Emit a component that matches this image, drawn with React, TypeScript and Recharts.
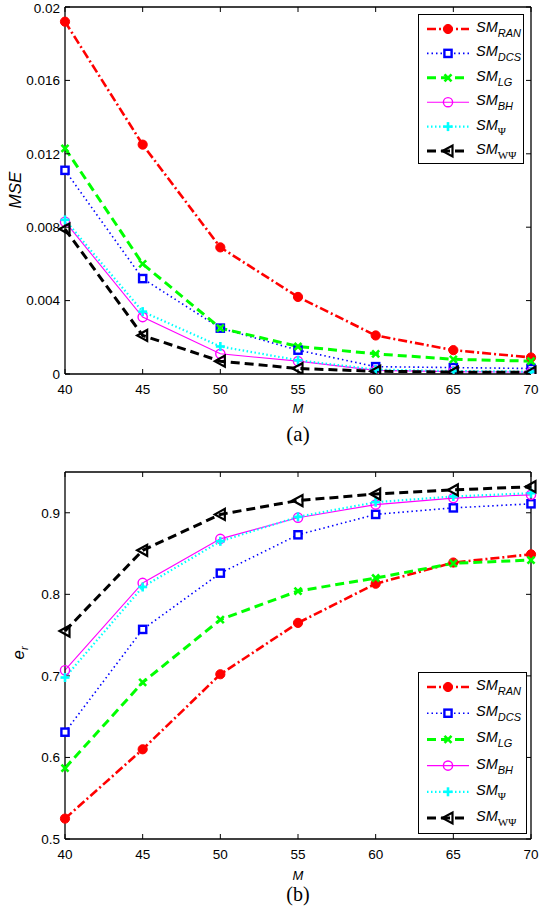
import React from "react"
import { LineChart, Line, XAxis, YAxis } from "recharts"

// M values on the x axis
const mValues = [40, 45, 50, 55, 60, 65, 70]

// (a) MSE
const mseRan = [0.0192, 0.0125, 0.0069, 0.0042, 0.0021, 0.0013, 0.0009]
const mseDcs = [0.0111, 0.0052, 0.0025, 0.0013, 0.0004, 0.00035, 0.0003]
const mseLg = [0.0123, 0.006, 0.0025, 0.0015, 0.0011, 0.0008, 0.0007]
const mseBh = [0.0083, 0.0031, 0.0011, 0.0007, 0.0002, 0.00013, 0.0001]
const msePsi = [0.0084, 0.0034, 0.0015, 0.00075, 0.00024, 0.00016, 0.00013]
const mseWpsi = [0.0079, 0.0021, 0.0007, 0.0003, 0.00015, 0.0001, 0.00009]

// (b) e_r
const erRan = [0.525, 0.61, 0.702, 0.765, 0.813, 0.839, 0.849]
const erDcs = [0.631, 0.757, 0.826, 0.873, 0.898, 0.906, 0.911]
const erLg = [0.587, 0.692, 0.769, 0.804, 0.82, 0.838, 0.842]
const erBh = [0.707, 0.814, 0.868, 0.894, 0.91, 0.918, 0.922]
const erPsi = [0.698, 0.809, 0.865, 0.895, 0.913, 0.92, 0.924]
const erWpsi = [0.755, 0.854, 0.898, 0.915, 0.923, 0.928, 0.932]

const mseTicks = [0, 0.004, 0.008, 0.012, 0.016, 0.02]
const erTicks = [0.5, 0.6, 0.7, 0.8, 0.9]
const seriesKeys = ["ran", "dcs", "lg", "bh", "psi", "wpsi"]
const subscripts = ["RAN", "DCS", "LG", "BH", "Ψ", "WΨ"]

const styles = {
  ran: { color: "#ff0000", dash: "9 3 2 3", width: 2.6, marker: "dot" },
  dcs: { color: "#0000ff", dash: "1.5 3", width: 1.6, marker: "square" },
  lg: { color: "#00ff00", dash: "9 5", width: 3, marker: "x" },
  bh: { color: "#ff00ff", dash: undefined, width: 1.1, marker: "circle" },
  psi: { color: "#00ffff", dash: "1.5 2.5", width: 2.2, marker: "plus" },
  wpsi: { color: "#000000", dash: "9 5", width: 3, marker: "tri" },
}

const mseRows = mValues.map((m, i) => ({
  m,
  ran: mseRan[i],
  dcs: mseDcs[i],
  lg: mseLg[i],
  bh: mseBh[i],
  psi: msePsi[i],
  wpsi: mseWpsi[i],
}))

const erRows = mValues.map((m, i) => ({
  m,
  ran: erRan[i],
  dcs: erDcs[i],
  lg: erLg[i],
  bh: erBh[i],
  psi: erPsi[i],
  wpsi: erWpsi[i],
}))

const FONT = "'Liberation Sans', Arial, sans-serif"
const tickFont = { fontFamily: FONT, fontSize: 13.5, fill: "#000" }

function Marker({ kind, cx, cy, color }) {
  if (cx == null || cy == null) return null
  switch (kind) {
    case "dot":
      return <circle cx={cx} cy={cy} r={4.6} fill={color} stroke={color} />
    case "square":
      return (
        <rect x={cx - 3.6} y={cy - 3.6} width={7.2} height={7.2} fill="#fff" stroke={color} strokeWidth={2.4} />
      )
    case "x":
      return (
        <g stroke={color} strokeWidth={2.6}>
          <line x1={cx - 3.5} y1={cy - 3.5} x2={cx + 3.5} y2={cy + 3.5} />
          <line x1={cx - 3.5} y1={cy + 3.5} x2={cx + 3.5} y2={cy - 3.5} />
        </g>
      )
    case "circle":
      return <circle cx={cx} cy={cy} r={4.6} fill="none" stroke={color} strokeWidth={1.4} />
    case "plus":
      return (
        <g stroke={color} strokeWidth={2.6}>
          <line x1={cx - 4.5} y1={cy} x2={cx + 4.5} y2={cy} />
          <line x1={cx} y1={cy - 4.5} x2={cx} y2={cy + 4.5} />
        </g>
      )
    case "tri":
      return (
        <polygon
          points={`${cx - 5.5},${cy} ${cx + 4.5},${cy - 5.5} ${cx + 4.5},${cy + 5.5}`}
          fill="none"
          stroke={color}
          strokeWidth={2.2}
        />
      )
    default:
      return null
  }
}

function SeriesLegend({ left, top, width, height, rowGap }) {
  return (
    <div
      style={{
        position: "absolute",
        left,
        top,
        width,
        height,
        border: "1.3px solid #000",
        background: "#fff",
        boxSizing: "border-box",
      }}
    >
      <svg width={width} height={height} style={{ position: "absolute", left: -1, top: -1 }}>
        {seriesKeys.map((k, i) => {
          const s = styles[k]
          const y = 15 + i * rowGap
          return (
            <g key={k}>
              <line x1={9} y1={y} x2={51} y2={y} stroke={s.color} strokeWidth={s.width} strokeDasharray={s.dash} />
              <Marker kind={s.marker} cx={30} cy={y} color={s.color} />
              <text x={58} y={y + 3} fontFamily={FONT} fontSize={14.5} fontStyle="italic">
                SM
                <tspan
                  dy={5}
                  fontSize={11}
                  fontStyle={subscripts[i].includes("Ψ") ? "normal" : "italic"}
                  fontFamily={subscripts[i].includes("Ψ") ? "'Liberation Serif', serif" : FONT}
                >
                  {subscripts[i]}
                </tspan>
              </text>
            </g>
          )
        })}
      </svg>
    </div>
  )
}

function Panel({ rows, domain, ticks, fmt }) {
  return (
    <LineChart width={540} height={450} data={rows} margin={{ top: 7, right: 9, left: 0, bottom: 46 }}>
      <XAxis
        xAxisId="b"
        dataKey="m"
        type="number"
        domain={[40, 70]}
        ticks={mValues}
        tickLine={false}
        axisLine={{ stroke: "#000", strokeWidth: 1.3 }}
        tick={tickFont}
        tickSize={6}
        tickMargin={4}
        height={30}
      />
      <XAxis
        xAxisId="bi"
        dataKey="m"
        type="number"
        domain={[40, 70]}
        ticks={mValues}
        mirror
        axisLine={false}
        tickLine={{ stroke: "#000" }}
        tickSize={5}
        tickFormatter={() => ""}
      />
      <XAxis
        xAxisId="t"
        dataKey="m"
        type="number"
        orientation="top"
        domain={[40, 70]}
        ticks={mValues}
        mirror
        axisLine={{ stroke: "#000", strokeWidth: 1.3 }}
        tickLine={{ stroke: "#000" }}
        tickSize={5}
        tickFormatter={() => ""}
      />
      <YAxis
        yAxisId="l"
        type="number"
        domain={domain}
        ticks={ticks}
        width={65}
        tickLine={false}
        axisLine={{ stroke: "#000", strokeWidth: 1.3 }}
        tick={tickFont}
        tickSize={5}
        tickMargin={0}
        tickFormatter={fmt}
        allowDataOverflow
      />
      <YAxis
        yAxisId="li"
        type="number"
        domain={domain}
        ticks={ticks}
        mirror
        axisLine={false}
        tickLine={{ stroke: "#000" }}
        tickSize={5}
        tickFormatter={() => ""}
        allowDataOverflow
      />
      <YAxis
        yAxisId="r"
        type="number"
        orientation="right"
        domain={domain}
        ticks={ticks}
        mirror
        axisLine={{ stroke: "#000", strokeWidth: 1.3 }}
        tickLine={{ stroke: "#000" }}
        tickSize={5}
        tickFormatter={() => ""}
        allowDataOverflow
      />
      {seriesKeys.map((k) => {
        const s = styles[k]
        return (
          <Line
            key={k}
            xAxisId="b"
            yAxisId="l"
            type="linear"
            dataKey={k}
            stroke={s.color}
            strokeWidth={s.width}
            strokeDasharray={s.dash}
            isAnimationActive={false}
            dot={(p) => <Marker key={`${k}-${p.index}`} kind={s.marker} cx={p.cx} cy={p.cy} color={s.color} />}
            activeDot={false}
          />
        )
      })}
    </LineChart>
  )
}

const overlay = (left, top, extra = {}) => ({
  position: "absolute" as const,
  left,
  top,
  transform: "translate(-50%, -50%)",
  whiteSpace: "nowrap" as const,
  lineHeight: 1,
  ...extra,
})

export default function App() {
  return (
    <div style={{ position: "absolute", left: 0, top: 0, width: 540, height: 906, background: "#fff", overflow: "hidden" }}>
      <div style={{ position: "absolute", left: 0, top: 0 }}>
        <Panel rows={mseRows} domain={[0, 0.02]} ticks={mseTicks} fmt={(v) => String(v)} />
      </div>
      <div style={{ position: "absolute", left: 0, top: 465 }}>
        <Panel rows={erRows} domain={[0.5, 0.95]} ticks={erTicks} fmt={(v) => String(v)} />
      </div>

      <SeriesLegend left={418} top={14} width={106} height={150} rowGap={24.4} />
      <SeriesLegend left={418} top={672} width={109} height={162} rowGap={26.2} />

      <div style={overlay(15, 190, { transform: "translate(-50%, -50%) rotate(-90deg)", fontFamily: FONT, fontStyle: "italic", fontSize: 17 })}>
        MSE
      </div>
      <div style={overlay(20, 653, { transform: "translate(-50%, -50%) rotate(-90deg)", fontFamily: FONT, fontStyle: "italic", fontSize: 17 })}>
        e<sub style={{ fontSize: 11 }}>r</sub>
      </div>

      <div style={overlay(298, 408, { fontFamily: FONT, fontStyle: "italic", fontSize: 13 })}>M</div>
      <div style={overlay(298, 875, { fontFamily: FONT, fontStyle: "italic", fontSize: 13 })}>M</div>
      <div style={overlay(298, 434, { fontFamily: "'Liberation Serif', serif", fontSize: 21 })}>(a)</div>
      <div style={overlay(298, 894, { fontFamily: "'Liberation Serif', serif", fontSize: 20 })}>(b)</div>
    </div>
  )
}
